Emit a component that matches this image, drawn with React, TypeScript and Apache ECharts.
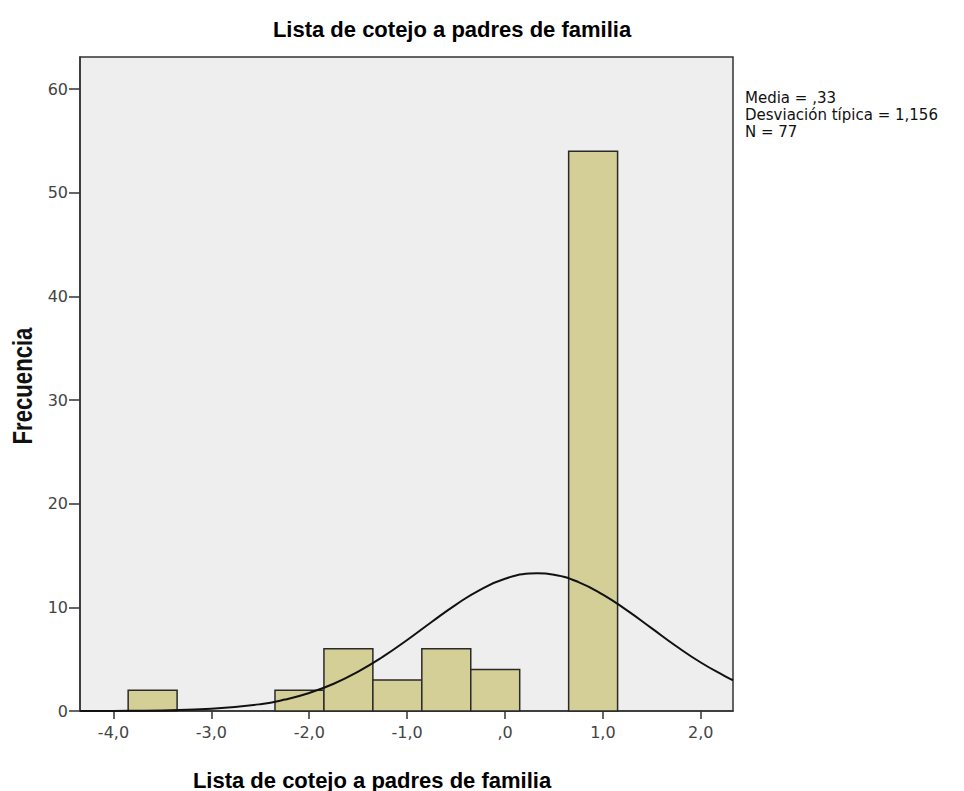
import React, { useEffect, useRef } from "react";
import * as echarts from "echarts";

// Histogram bins (start, end) and frequencies
const binStart = [-3.85, -2.35, -1.85, -1.35, -0.85, -0.35, 0.65];
const binEnd = [-3.35, -1.85, -1.35, -0.85, -0.35, 0.15, 1.15];
const counts = [2, 2, 6, 3, 6, 4, 54];

// Normal curve points
const curveX = [-4.34, -4.0, -3.5, -3.0, -2.5, -2.25, -2.0, -1.75, -1.5, -1.25, -1.0, -0.75, -0.5, -0.25, 0.0, 0.25, 0.33, 0.5, 0.75, 1.0, 1.25, 1.5, 1.75, 2.0, 2.25, 2.33];
const curveY = [0.0, 0.01, 0.06, 0.21, 0.66, 1.1, 1.74, 2.63, 3.8, 5.22, 6.85, 8.59, 10.27, 11.72, 12.76, 13.26, 13.29, 13.15, 12.44, 11.23, 9.68, 7.97, 6.25, 4.68, 3.35, 2.97];

const xTicks = [-4, -3, -2, -1, 0, 1, 2];
const yTicks = [0, 10, 20, 30, 40, 50, 60];
const statsLines = ["Media = ,33", "Desviación típica = 1,156", "N = 77"];
const titleText = "Lista de cotejo a padres de familia";
const xAxisTitle = "Lista de cotejo a padres de familia";
const yAxisTitle = "Frecuencia";

const fmtX = (v: number) => (v === 0 ? ",0" : v.toFixed(1).replace(".", ","));

export default function App() {
  const ref = useRef<HTMLDivElement>(null);
  useEffect(() => {
    if (!ref.current) return;
    const chart = echarts.init(ref.current, undefined, { renderer: "svg" });
    const barData = counts.map((c, i) => [binStart[i], binEnd[i], c]);
    const lineData = curveX.map((x, i) => [x, curveY[i]]);
    const statTexts = statsLines.map((t, i) => ({
      type: "text",
      x: 745,
      y: 97.5 + i * 17,
      style: {
        text: t,
        font: "15px 'DejaVu Sans'",
        fill: "#111",
        textAlign: "left",
        textVerticalAlign: "middle",
      },
    }));
    chart.setOption({
      animation: false,
      backgroundColor: "#ffffff",
      graphic: [
        {
          type: "text",
          x: 452,
          y: 29,
          style: {
            text: titleText,
            font: "bold 22px 'Liberation Sans'",
            fill: "#000",
            textAlign: "center",
            textVerticalAlign: "middle",
          },
        },
        {
          type: "text",
          x: 372,
          y: 780,
          style: {
            text: xAxisTitle,
            font: "bold 22px 'Liberation Sans'",
            fill: "#000",
            textAlign: "center",
            textVerticalAlign: "middle",
          },
        },
        {
          type: "text",
          x: 23,
          y: 386,
          rotation: Math.PI / 2,
          scaleX: 0.82,
          style: {
            text: yAxisTitle,
            font: "bold 27px 'Liberation Sans'",
            fill: "#111",
            textAlign: "center",
            textVerticalAlign: "middle",
          },
        },
        ...statTexts,
      ],
      grid: {
        left: 80,
        top: 57,
        width: 653,
        height: 654,
        show: true,
        backgroundColor: "#eeeeee",
        borderColor: "#333",
        borderWidth: 1.5,
      },
      xAxis: {
        type: "value",
        min: -4.342,
        max: 2.329,
        axisLine: { show: true, onZero: false, lineStyle: { color: "#333", width: 1.5 } },
        axisTick: { show: true, length: 8, customValues: xTicks, lineStyle: { color: "#333", width: 1.5 } },
        axisLabel: {
          customValues: xTicks,
          formatter: (v: number) => fmtX(v),
          fontFamily: "DejaVu Sans",
          fontSize: 16,
          color: "#444",
          margin: 13,
        },
        splitLine: { show: false },
      },
      yAxis: {
        type: "value",
        min: 0,
        max: 63.1,
        axisLine: { show: true, onZero: false, lineStyle: { color: "#333", width: 1.5 } },
        axisTick: { show: true, length: 11, customValues: yTicks, lineStyle: { color: "#333", width: 1.5 } },
        axisLabel: {
          customValues: yTicks,
          fontFamily: "DejaVu Sans",
          fontSize: 16,
          color: "#444",
          margin: 12,
        },
        splitLine: { show: false },
      },
      series: [
        {
          type: "custom",
          data: barData,
          encode: { x: [0, 1], y: 2 },
          renderItem: (params: any, api: any) => {
            const p0 = api.coord([api.value(0), 0]);
            const p1 = api.coord([api.value(1), api.value(2)]);
            return {
              type: "rect",
              shape: { x: p0[0], y: p1[1], width: p1[0] - p0[0], height: p0[1] - p1[1] },
              style: { fill: "#d3cf97", stroke: "#2a2a2a", lineWidth: 1.5 },
            };
          },
          z: 2,
        },
        {
          type: "line",
          data: lineData,
          smooth: true,
          showSymbol: false,
          lineStyle: { color: "#111", width: 2 },
          z: 3,
        },
      ],
    });
    return () => chart.dispose();
  }, []);
  return <div ref={ref} style={{ position: "fixed", left: 0, top: 0, width: 964, height: 791 }} />;
}
